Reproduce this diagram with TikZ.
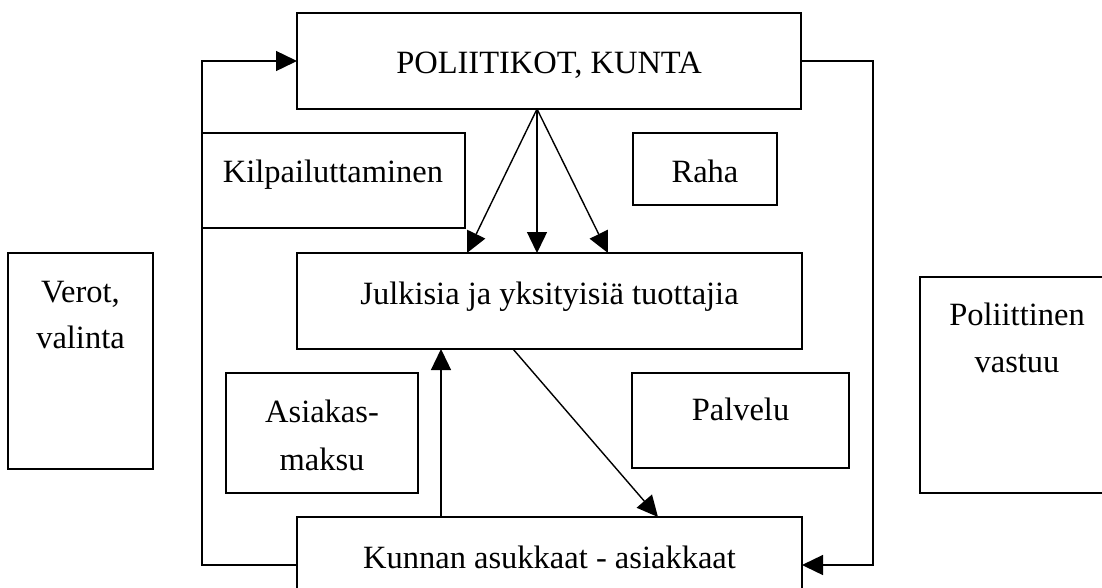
\documentclass[tikz,border=0pt]{standalone}
\usepackage{fontspec}
\setmainfont{Liberation Serif}
\usetikzlibrary{arrows.meta,calc}
\begin{document}
\begin{tikzpicture}[x=1pt,y=-1pt,
  box/.style={draw=black,line width=1.4pt,rectangle,inner sep=0pt,outer sep=0pt,fill=none},
  lbl/.style={anchor=base,inner sep=0pt,font=\fontsize{32.5}{38}\selectfont},
  conn/.style={draw=black,line width=1.4pt},
  arr/.style={conn,-{Triangle[length=21pt,width=20pt]}}]
\clip (0,0) rectangle (1102,587);
\fill[white] (0,0) rectangle (1102,587);
% boxes
\node[box,minimum width=504pt,minimum height=96pt] (pol) at (549,61) {};
\node[box,minimum width=263pt,minimum height=95pt] (kil) at (333.5,180.5) {};
\node[box,minimum width=144pt,minimum height=72pt] (raha) at (705,169) {};
\node[box,minimum width=505pt,minimum height=96pt] (julk) at (549.5,301) {};
\node[box,minimum width=145pt,minimum height=216pt] (verot) at (80.5,361) {};
\node[box,minimum width=190pt,minimum height=216pt] (polv) at (1015,385) {};
\node[box,minimum width=192pt,minimum height=120pt] (asi) at (322,433) {};
\node[box,minimum width=217pt,minimum height=95pt] (palv) at (740.5,420.5) {};
\node[box,minimum width=505pt,minimum height=96pt] (kun) at (549.5,565) {};
% texts
\node[lbl] (tpol) at (549,73) {POLIITIKOT, KUNTA};
\node[lbl] (tkil) at (333,182) {Kilpailuttaminen};
\node[lbl] (traha) at (705,182) {Raha};
\node[lbl] (tjulk) at (549.5,304) {Julkisia ja yksityisiä tuottajia};
\node[lbl] (tverot1) at (80.5,302) {Verot,};
\node[lbl] (tverot2) at (80.5,348) {valinta};
\node[lbl] (tpolv1) at (1017,325) {Poliittinen};
\node[lbl] (tpolv2) at (1017,372) {vastuu};
\node[lbl] (tasi1) at (322,422) {Asiakas-};
\node[lbl] (tasi2) at (322,470) {maksu};
\node[lbl] (tpalv) at (740.5,420) {Palvelu};
\node[lbl] (tkun) at (549.5,568) {Kunnan asukkaat - asiakkaat};
% connectors
\draw[arr] (kun.west) -- ++(-95,0) |- (pol.west);
\draw[arr] (pol.east) -- ++(72,0) |- (kun.east);
\coordinate (apex) at ([xshift=240pt]pol.south west);
\draw[arr] (apex) -- ([xshift=170pt]julk.north west);
\draw[arr] (apex) -- ([xshift=240pt]julk.north west);
\draw[arr] (apex) -- ([xshift=311pt]julk.north west);
\draw[arr] ([xshift=144pt]kun.north west) -- ([xshift=144pt]julk.south west);
\draw[arr] ([xshift=216pt]julk.south west) -- ([xshift=361pt]kun.north west);
\end{tikzpicture}
\end{document}
